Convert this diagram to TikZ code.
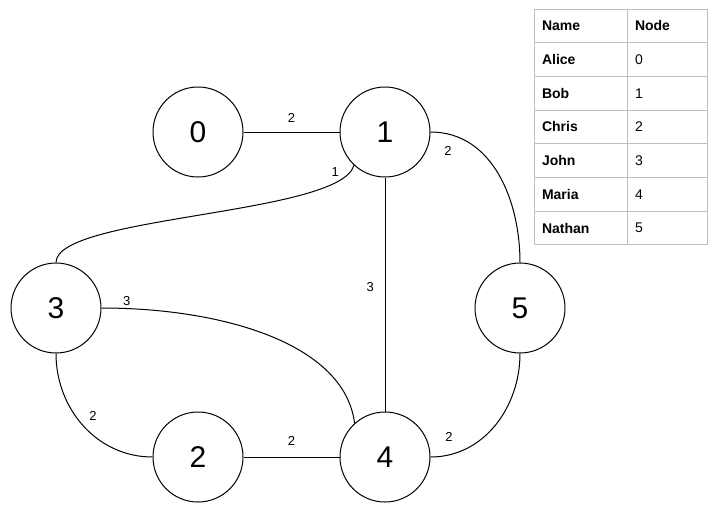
\documentclass[tikz,border=0pt]{standalone}
\usepackage{fontspec}
\setmainfont{Liberation Sans}
\usetikzlibrary{positioning}

\begin{document}
\begin{tikzpicture}[x=0.75pt, y=-0.75pt, line width=0.75pt,
    vertex/.style={draw, circle, minimum size=67.5pt, inner sep=0pt,
        font=\fontsize{22.5}{27}\selectfont},
    weight/.style={font=\fontsize{9.75}{12}\selectfont, inner sep=2pt},
    cell/.style={draw=gray!50, anchor=north west, outer sep=0pt,
        inner xsep=6pt, inner ysep=0pt, minimum height=25.3pt, align=left,
        font=\fontsize{10.5}{12}\selectfont}]
\useasboundingbox (0,0) rectangle (709,504);

% Vertices
\node[vertex] (v0) at (198,132) {0};
\node[vertex] (v1) at (385,132) {1};
\node[vertex] (v3) at (56,308) {3};
\node[vertex] (v5) at (520,308) {5};
\node[vertex] (v2) at (198,457) {2};
\node[vertex] (v4) at (385,457) {4};

% Weighted edges
\draw (v0) -- node[weight, above=5pt] {2} (v1);
\draw (v1) -- node[weight, left=6pt, pos=0.47] {3} (v4);
\draw (v2) -- node[weight, above=6pt] {2} (v4);
\draw (v1.-133) .. controls +(-14,50) and +(0,-47) .. node[weight, pos=0.05, left=6pt] {1} (v3.north);
\draw (v3.east) .. controls +(120,0) and +(-10,-80) .. node[weight, pos=0.07, above] {3} (v4.132);
\draw (v3.south) to[out=-90, in=180] node[weight, pos=0.5, above right=3pt] {2} (v2.west);
\draw (v1.east) to[out=0, in=90] node[weight, pos=0.1, below=7pt] {2} (v5.north);
\draw (v4.east) to[out=0, in=-90] node[weight, pos=0.12, above=8pt] {2} (v5.south);

% Name / node table
\foreach \who/\id [count=\r from 0] in {Name/Node, Alice/0, Bob/1, Chris/2, John/3, Maria/4, Nathan/5} {
    \node[cell, text width=57.75pt] (name\r) at (534, {9+33.7*\r}) {\textbf{\who}};
    \node[cell, text width=48.4pt] (id\r) at (name\r.north east) {\ifnum\r=0 \textbf{\id}\else\id\fi};
}
\end{tikzpicture}
\end{document}
